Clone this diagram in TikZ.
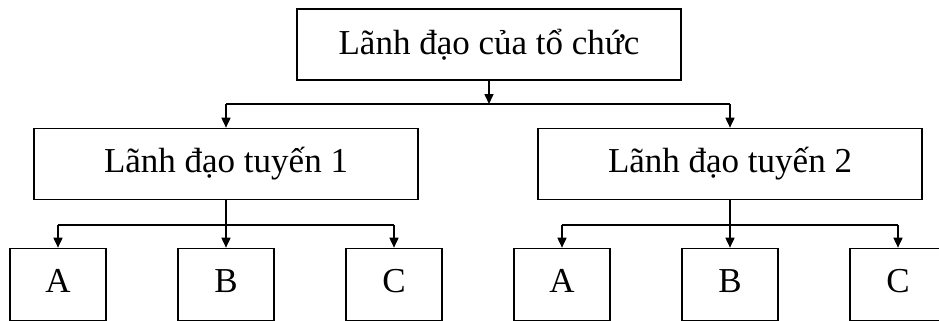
\documentclass[tikz,border=0pt]{standalone}
\usepackage{fontspec}
\setmainfont{Liberation Serif}
\usepackage{tikz}
\usetikzlibrary{
    positioning,
    arrows.meta,
    calc
}

\begin{document}
\begin{tikzpicture}[x=1pt, y=-1pt, font=\fontsize{35}{40}\selectfont,
  head/.style={draw, line width=1.6pt, minimum width=384pt, minimum height=71pt,
               text centered, align=center, inner sep=0pt},
  unit/.style={draw, line width=1.6pt, minimum width=96pt, minimum height=72pt,
               text centered, text height=24pt, text depth=9pt, inner sep=0pt},
  link/.style={line width=1.6pt, draw=black},
  arr/.style={-{Triangle[length=10pt, width=9pt]}, line width=1.6pt, draw=black}]

  \useasboundingbox (0,0) rectangle (939,321);
  \clip (0,0) rectangle (939,321);

  % Leadership boxes
  \node[head] (Top) at (489,44.5) {Lãnh đạo của tổ chức};
  \node[head] (L1)  at (226,164)  {Lãnh đạo tuyến 1};
  \node[head] (L2)  at (730,164)  {Lãnh đạo tuyến 2};

  % Units under each line leader
  \node[unit] (A1) at (58,284.5)  {A};
  \node[unit] (B1) at (226,284.5) {B};
  \node[unit] (C1) at (394,284.5) {C};
  \node[unit] (A2) at (562,284.5) {A};
  \node[unit] (B2) at (730,284.5) {B};
  \node[unit] (C2) at (898,284.5) {C};

  % Junction levels
  \coordinate (J0) at (489,104);
  \coordinate (J1) at (226,225);
  \coordinate (J2) at (730,225);

  % Top level to the two line leaders
  \draw[arr] (Top.south) -- (J0);
  \draw[link] (J0 -| L1.north) -- (J0 -| L2.north);
  \draw[arr] (J0 -| L1.north) -- (L1.north);
  \draw[arr] (J0 -| L2.north) -- (L2.north);

  % Line leaders to units
  \draw[link] (J1 -| A1.north) -- (J1 -| C1.north);
  \draw[arr] (L1.south) -- (B1.north);
  \draw[arr] (J1 -| A1.north) -- (A1.north);
  \draw[arr] (J1 -| C1.north) -- (C1.north);

  \draw[link] (J2 -| A2.north) -- (J2 -| C2.north);
  \draw[arr] (L2.south) -- (B2.north);
  \draw[arr] (J2 -| A2.north) -- (A2.north);
  \draw[arr] (J2 -| C2.north) -- (C2.north);
\end{tikzpicture}
\end{document}
